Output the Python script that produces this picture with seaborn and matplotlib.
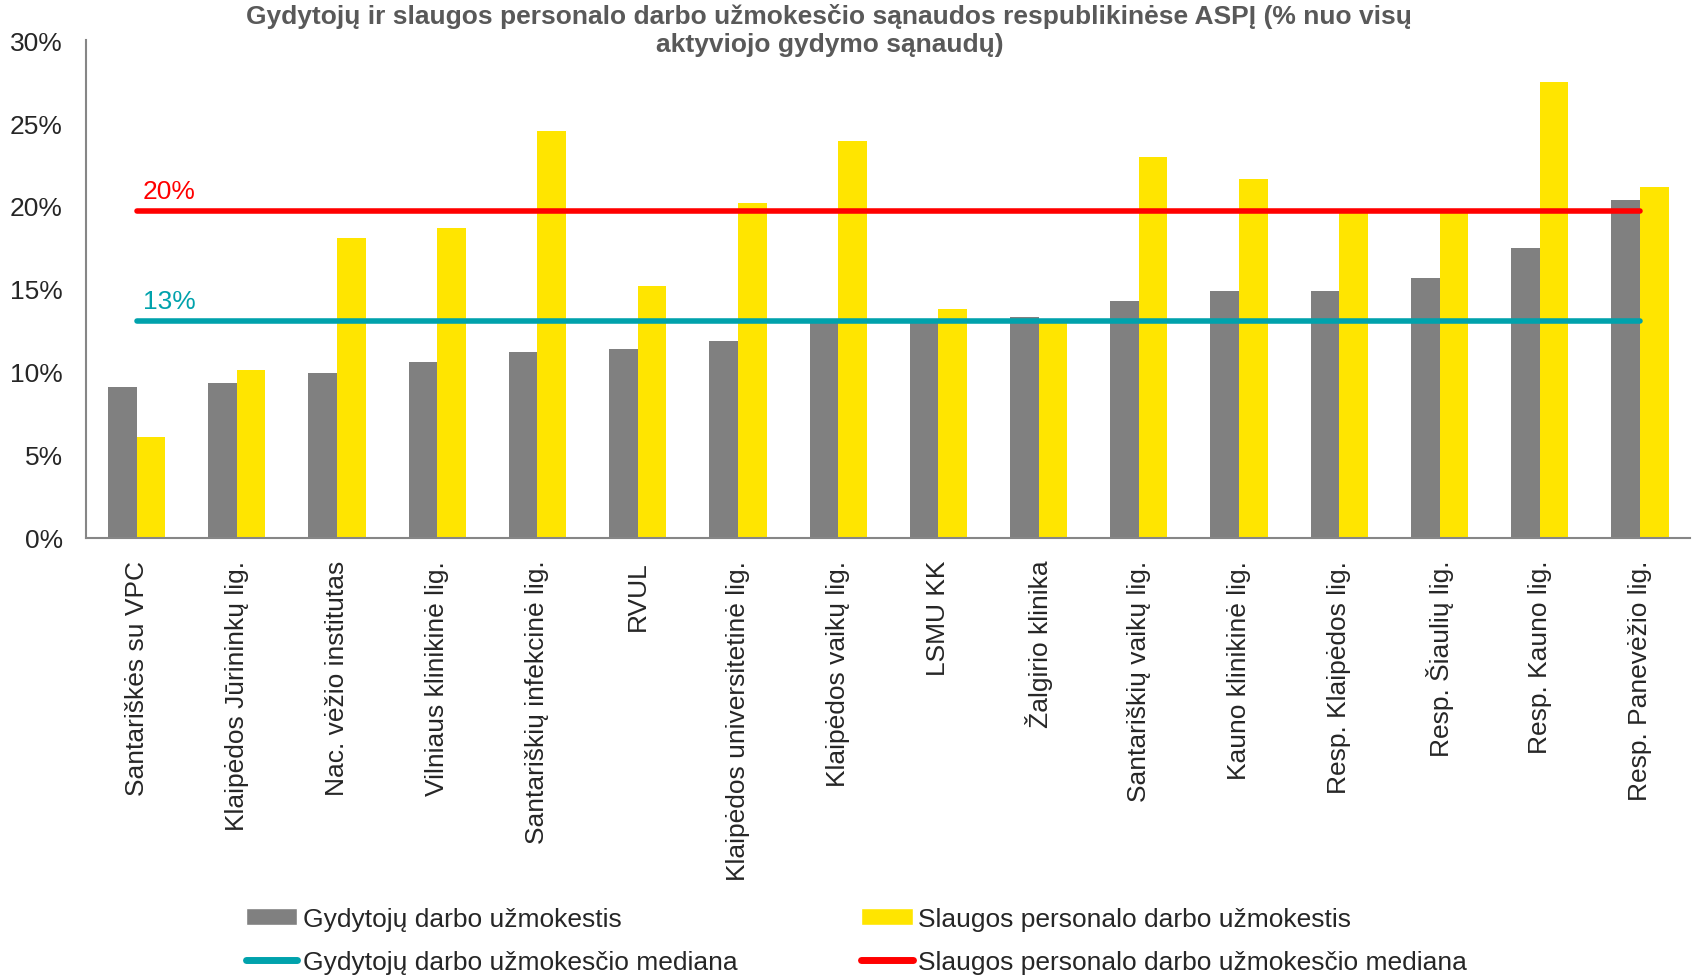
import numpy as np
import pandas as pd
import matplotlib
matplotlib.use('Agg')
import matplotlib.pyplot as plt
import seaborn as sns
from matplotlib.lines import Line2D
from matplotlib.patches import Patch
from matplotlib.ticker import FuncFormatter, FixedLocator

# data (% of total active treatment costs)
hospitals = ['Santariškės su VPC', 'Klaipėdos Jūrininkų lig.', 'Nac. vėžio institutas',
             'Vilniaus klinikinė lig.', 'Santariškių infekcinė lig.', 'RVUL',
             'Klaipėdos universitetinė lig.', 'Klaipėdos vaikų lig.', 'LSMU KK',
             'Žalgirio klinika', 'Santariškių vaikų lig.', 'Kauno klinikinė lig.',
             'Resp. Klaipėdos lig.', 'Resp. Šiaulių lig.', 'Resp. Kauno lig.',
             'Resp. Panevėžio lig.']
doctors = [9.07, 9.33, 9.92, 10.6, 11.2, 11.35, 11.87, 13.1, 13.2, 13.3,
           14.28, 14.87, 14.87, 15.66, 17.48, 20.35]
nurses = [6.07, 10.1, 18.07, 18.66, 24.5, 15.2, 20.15, 23.9, 13.76, 13.0,
          22.96, 21.6, 19.65, 19.7, 27.46, 21.13]
doctors_median = 13.05
nurses_median = 19.7
median_labels = ['13%', '20%']

series_names = ['Gydytojų darbo užmokestis', 'Slaugos personalo darbo užmokestis']
median_names = ['Gydytojų darbo užmokesčio mediana', 'Slaugos personalo darbo užmokesčio mediana']
title = ('Gydytojų ir slaugos personalo darbo užmokesčio sąnaudos respublikinėse ASPĮ (% nuo visų\n'
         'aktyviojo gydymo sąnaudų)')

gray = '#808080'
yellow = '#FFE500'
teal = '#00A2AC'
red = '#FF0000'
axis_col = '#868686'

df = pd.DataFrame({'hospital': hospitals * 2,
                   'value': doctors + nurses,
                   'series': [series_names[0]] * len(hospitals) + [series_names[1]] * len(hospitals)})

sns.set_style('white')
plt.rcParams['font.family'] = ['Liberation Sans', 'DejaVu Sans']

fig = plt.figure(figsize=(16.96, 9.79), dpi=100)
ax = fig.add_axes([0.051, 0.4498, 0.9455, 0.5082])

sns.barplot(data=df, x='hospital', y='value', hue='series', order=hospitals,
            hue_order=series_names, palette=[gray, yellow], saturation=1,
            width=0.57, legend=False, ax=ax, errorbar=None, linewidth=0)

n = len(hospitals)
ax.hlines(doctors_median, 0, n - 1, color=teal, linewidth=4, capstyle='round', zorder=5)
ax.hlines(nurses_median, 0, n - 1, color=red, linewidth=4, capstyle='round', zorder=5)
ax.text(0.06, doctors_median + 0.5, median_labels[0], color=teal, fontsize=19, va='bottom')
ax.text(0.06, nurses_median + 0.5, median_labels[1], color=red, fontsize=19, va='bottom')

ax.set_xlim(-0.5, n - 0.5)
ax.set_ylim(0, 30)
ax.set_yticks(np.arange(0, 31, 5))
ax.yaxis.set_major_formatter(FuncFormatter(lambda v, p: f'{v:.0f}%'))
ax.set_xticks(range(n))
ax.set_xticklabels(hospitals, rotation=90, fontsize=19, va='top')
ax.xaxis.set_minor_locator(FixedLocator(np.arange(-0.5, n, 1.0)))
ax.tick_params(axis='x', which='major', length=0, pad=16)
ax.tick_params(axis='x', which='minor', length=8, width=1.2, color=axis_col, direction='out')
ax.tick_params(axis='y', length=8, width=1.2, color=axis_col, direction='out', labelsize=19, pad=9)
ax.set_xlabel('')
ax.set_ylabel('')

for s in ['top', 'right']:
    ax.spines[s].set_visible(False)
for s in ['left', 'bottom']:
    ax.spines[s].set_color(axis_col)
    ax.spines[s].set_linewidth(1.5)

fig.text(0.489, 0.996, title, ha='center', va='top', fontsize=19,
         fontweight='bold', color='#595959', linespacing=1.2)

handles = [Patch(facecolor=gray), Line2D([], [], color=teal, linewidth=5, solid_capstyle='round'),
           Patch(facecolor=yellow), Line2D([], [], color=red, linewidth=5, solid_capstyle='round')]
labels = [series_names[0], median_names[0], series_names[1], median_names[1]]
fig.legend(handles, labels, ncol=2, loc='lower left', bbox_to_anchor=(0.131, -0.02),
           frameon=False, fontsize=19, handlelength=1.95, handleheight=0.6,
           handletextpad=0.2, columnspacing=4.7, labelspacing=0.72)

fig.savefig('out.png', dpi=100)
